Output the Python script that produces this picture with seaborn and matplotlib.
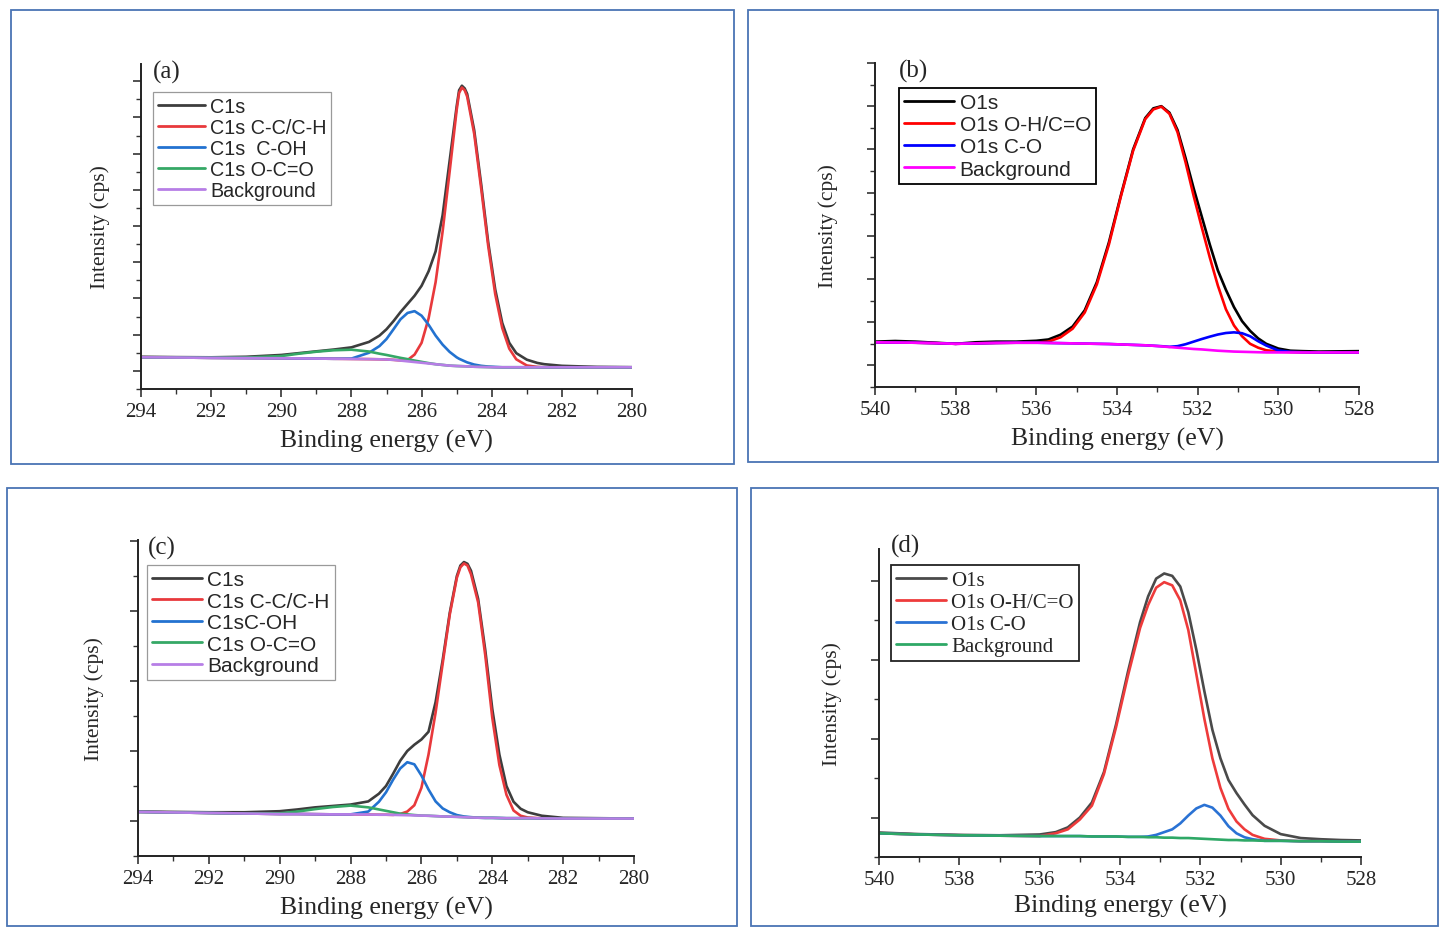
import matplotlib
matplotlib.use('Agg')
import matplotlib.pyplot as plt
import seaborn as sns
from matplotlib.patches import Rectangle
from matplotlib.ticker import MultipleLocator, NullFormatter

# ---------------- (a) C1s ----------------
energy_a = [294, 293, 292, 291, 290, 289.5, 289, 288.5, 288, 287.5, 287.2, 287.0,
            286.8, 286.6, 286.4, 286.2, 286.0, 285.8, 285.6, 285.4, 285.2, 285.0,
            284.93, 284.85, 284.77, 284.7, 284.5, 284.3, 284.1, 283.9, 283.7, 283.5,
            283.3, 283.0, 282.7, 282.5, 282.0, 281.0, 280.0]
c1s_a = [1.78, 1.76, 1.75, 1.78, 1.88, 1.98, 2.08, 2.18, 2.30, 2.60, 2.95, 3.30,
         3.75, 4.25, 4.70, 5.15, 5.70, 6.50, 7.60, 9.60, 12.6, 15.6,
         16.5, 16.75, 16.6, 16.3, 14.3, 11.3, 8.10, 5.50, 3.65, 2.55,
         1.98, 1.62, 1.44, 1.37, 1.28, 1.22, 1.20]
cc_a = [1.75, 1.74, 1.72, 1.71, 1.70, 1.69, 1.68, 1.67, 1.66, 1.65, 1.64, 1.63,
        1.61, 1.58, 1.60, 1.90, 2.55, 3.90, 5.90, 8.70, 12.0, 15.4,
        16.35, 16.65, 16.5, 16.15, 14.1, 11.07, 7.90, 5.24, 3.37, 2.23,
        1.64, 1.30, 1.22, 1.20, 1.20, 1.20, 1.20]
coh_a = [1.75, 1.74, 1.72, 1.71, 1.70, 1.69, 1.68, 1.67, 1.68, 2.00, 2.37, 2.76,
         3.30, 3.85, 4.20, 4.30, 4.05, 3.55, 2.95, 2.45, 2.05, 1.75,
         1.67, 1.60, 1.53, 1.47, 1.35, 1.28, 1.24, 1.22, 1.20, 1.20,
         1.20, 1.20, 1.20, 1.20, 1.20, 1.20, 1.20]
oco_a = [1.75, 1.74, 1.73, 1.74, 1.82, 1.95, 2.06, 2.14, 2.17, 2.07, 1.95, 1.88,
         1.80, 1.72, 1.65, 1.57, 1.50, 1.43, 1.37, 1.33, 1.29, 1.27,
         1.265, 1.26, 1.255, 1.25, 1.23, 1.22, 1.21, 1.20, 1.20, 1.20,
         1.20, 1.20, 1.20, 1.20, 1.20, 1.20, 1.20]
bg_a = [1.75, 1.74, 1.72, 1.71, 1.70, 1.69, 1.68, 1.67, 1.66, 1.65, 1.64, 1.63,
        1.61, 1.57, 1.53, 1.49, 1.45, 1.41, 1.37, 1.33, 1.29, 1.27,
        1.265, 1.26, 1.255, 1.25, 1.23, 1.22, 1.21, 1.20, 1.20, 1.20,
        1.20, 1.20, 1.20, 1.20, 1.20, 1.20, 1.20]
labels_a = ['C1s', 'C1s C-C/C-H', 'C1s  C-OH', 'C1s O-C=O', 'Background']

# ---------------- (b) O1s ----------------
energy_b = [540, 539.5, 539, 538.5, 538, 537.5, 537, 536.5, 536, 535.7, 535.4, 535.1,
            534.8, 534.5, 534.2, 533.9, 533.6, 533.3, 533.1, 532.9, 532.7, 532.5,
            532.3, 532.1, 531.9, 531.7, 531.5, 531.3, 531.1, 530.9, 530.7, 530.5,
            530.3, 530.0, 529.7, 529.4, 529.0, 528.5, 528.0]
o1s_b = [2.10, 2.13, 2.10, 2.05, 2.00, 2.07, 2.10, 2.10, 2.14, 2.20, 2.42, 2.80,
         3.55, 4.85, 6.70, 8.90, 11.0, 12.45, 12.9, 13.0, 12.7, 11.9,
         10.6, 9.20, 7.90, 6.60, 5.40, 4.50, 3.70, 3.05, 2.60, 2.25,
         2.00, 1.78, 1.68, 1.66, 1.64, 1.65, 1.66]
ohco_b = [2.07, 2.06, 2.05, 2.03, 2.00, 2.02, 2.04, 2.05, 2.05, 2.10, 2.30, 2.70,
          3.45, 4.75, 6.60, 8.85, 10.94, 12.4, 12.85, 12.98, 12.65, 11.8,
          10.4, 8.85, 7.40, 6.00, 4.70, 3.60, 2.85, 2.35, 2.00, 1.82,
          1.70, 1.64, 1.62, 1.61, 1.60, 1.60, 1.60]
co_b = [2.07, 2.06, 2.05, 2.03, 2.00, 2.02, 2.04, 2.05, 2.05, 2.04, 2.03, 2.02,
        2.01, 2.00, 1.99, 1.97, 1.95, 1.93, 1.91, 1.89, 1.86, 1.89,
        1.98, 2.10, 2.22, 2.33, 2.43, 2.50, 2.53, 2.49, 2.35, 2.12,
        1.92, 1.69, 1.63, 1.61, 1.60, 1.60, 1.60]
bg_b = [2.07, 2.06, 2.05, 2.03, 2.00, 2.02, 2.04, 2.05, 2.05, 2.04, 2.03, 2.02,
        2.01, 2.00, 1.99, 1.97, 1.95, 1.93, 1.91, 1.88, 1.85, 1.82,
        1.79, 1.76, 1.74, 1.71, 1.68, 1.66, 1.64, 1.63, 1.62, 1.61,
        1.60, 1.60, 1.60, 1.60, 1.60, 1.60, 1.60]
labels_b = ['O1s', 'O1s O-H/C=O', 'O1s C-O', 'Background']

# ---------------- (c) C1s ----------------
energy_c = [294, 293, 292, 291, 290, 289.5, 289, 288.5, 288, 287.5, 287.2, 287.0,
            286.8, 286.6, 286.4, 286.2, 286.0, 285.8, 285.6, 285.4, 285.2, 285.0,
            284.9, 284.8, 284.7, 284.6, 284.4, 284.2, 284.0, 283.8, 283.6, 283.4,
            283.2, 283.0, 282.6, 282.0, 281.0, 280.0]
c1s_c = [1.27, 1.26, 1.25, 1.25, 1.28, 1.33, 1.39, 1.43, 1.47, 1.56, 1.78, 2.00,
         2.35, 2.72, 3.00, 3.18, 3.33, 3.55, 4.40, 5.60, 6.95, 8.00,
         8.30, 8.40, 8.35, 8.15, 7.35, 5.90, 4.20, 2.90, 2.00, 1.55,
         1.35, 1.25, 1.15, 1.09, 1.08, 1.07]
cc_c = [1.26, 1.245, 1.23, 1.215, 1.20, 1.20, 1.195, 1.19, 1.19, 1.185, 1.18, 1.18,
        1.175, 1.20, 1.27, 1.45, 1.95, 2.90, 4.10, 5.50, 6.90, 7.95,
        8.25, 8.36, 8.30, 8.05, 7.25, 5.75, 3.95, 2.60, 1.75, 1.30,
        1.15, 1.10, 1.075, 1.07, 1.07, 1.07]
coh_c = [1.26, 1.245, 1.23, 1.215, 1.20, 1.20, 1.195, 1.19, 1.19, 1.27, 1.55, 1.82,
         2.18, 2.50, 2.68, 2.62, 2.30, 1.90, 1.56, 1.36, 1.25, 1.17,
         1.15, 1.13, 1.12, 1.11, 1.095, 1.09, 1.09, 1.085, 1.08, 1.08,
         1.08, 1.08, 1.075, 1.07, 1.07, 1.07]
oco_c = [1.26, 1.245, 1.23, 1.215, 1.22, 1.27, 1.34, 1.40, 1.44, 1.39, 1.33, 1.29,
         1.25, 1.21, 1.19, 1.17, 1.155, 1.15, 1.14, 1.13, 1.125, 1.12,
         1.115, 1.11, 1.105, 1.10, 1.095, 1.09, 1.09, 1.085, 1.08, 1.08,
         1.08, 1.08, 1.075, 1.07, 1.07, 1.07]
bg_c = [1.26, 1.245, 1.23, 1.215, 1.20, 1.20, 1.195, 1.19, 1.19, 1.185, 1.18, 1.18,
        1.175, 1.17, 1.165, 1.16, 1.155, 1.15, 1.14, 1.13, 1.125, 1.12,
        1.115, 1.11, 1.105, 1.10, 1.095, 1.09, 1.09, 1.085, 1.08, 1.08,
        1.08, 1.08, 1.075, 1.07, 1.07, 1.07]
labels_c = ['C1s', 'C1s C-C/C-H', 'C1sC-OH', 'C1s O-C=O', 'Background']

# ---------------- (d) O1s ----------------
energy_d = [540, 539, 538, 537, 536, 535.6, 535.3, 535.0, 534.7, 534.4, 534.1, 533.8,
            533.5, 533.3, 533.1, 532.9, 532.7, 532.5, 532.3, 532.1, 531.9, 531.7,
            531.5, 531.3, 531.1, 530.9, 530.7, 530.4, 530.0, 529.5, 529.0, 528.5, 528.0]
o1s_d = [0.62, 0.58, 0.56, 0.55, 0.57, 0.63, 0.75, 1.00, 1.38, 2.15, 3.35, 4.70,
         5.95, 6.60, 7.05, 7.18, 7.12, 6.85, 6.20, 5.25, 4.20, 3.22,
         2.50, 1.95, 1.62, 1.33, 1.06, 0.79, 0.58, 0.48, 0.45, 0.43, 0.42]
ohco_d = [0.60, 0.57, 0.55, 0.54, 0.53, 0.60, 0.70, 0.95, 1.30, 2.10, 3.28, 4.60,
          5.80, 6.38, 6.82, 6.96, 6.88, 6.50, 5.75, 4.63, 3.50, 2.50,
          1.75, 1.22, 0.90, 0.70, 0.56, 0.46, 0.42, 0.40, 0.40, 0.39, 0.39]
co_d = [0.60, 0.57, 0.55, 0.54, 0.53, 0.53, 0.53, 0.53, 0.52, 0.52, 0.52, 0.51,
        0.51, 0.52, 0.56, 0.63, 0.70, 0.85, 1.05, 1.23, 1.32, 1.25,
        1.05, 0.78, 0.60, 0.50, 0.45, 0.41, 0.41, 0.40, 0.40, 0.39, 0.39]
bg_d = [0.60, 0.57, 0.55, 0.54, 0.53, 0.53, 0.53, 0.53, 0.52, 0.52, 0.52, 0.51,
        0.51, 0.50, 0.50, 0.49, 0.49, 0.48, 0.48, 0.47, 0.46, 0.45,
        0.44, 0.43, 0.43, 0.42, 0.42, 0.41, 0.41, 0.40, 0.40, 0.39, 0.39]
labels_d = ['O1s', 'O1s O-H/C=O', 'O1s C-O', 'Background']

SERIF = ['Liberation Serif', 'DejaVu Serif']
SANS = ['Liberation Sans', 'DejaVu Sans']

sns.set_style('ticks')
plt.rcParams['font.family'] = SERIF
plt.rcParams['axes.linewidth'] = 1.4
plt.rcParams['axes.edgecolor'] = '#222222'

fig = plt.figure(figsize=(14.39, 9.28), dpi=100)

# outer blue frames of the four pictures
for (x0, y0, x1, y1) in [(11, 11, 734, 465), (748, 11, 1438, 463),
                         (7, 489, 737, 927), (751, 489, 1438, 927)]:
    fig.add_artist(Rectangle((x0 / 1439, 1 - y1 / 928), (x1 - x0) / 1439, (y1 - y0) / 928,
                             transform=fig.transFigure, fill=False,
                             edgecolor='#4a74b4', lw=1.3))


def panel(rect, energy, series, labels, colors, xlim, ylim, tag, tag_xy,
          leg_xy, leg_font, leg_edge, leg_lw, ylab_x, xlab_y, leg_size, leg_space):
    ax = fig.add_axes(rect)
    for vals, lab, col in zip(series, labels, colors):
        sns.lineplot(x=energy, y=vals, ax=ax, color=col, lw=1.9, label=lab)
    ax.set_xlim(*xlim)
    ax.set_ylim(*ylim)
    ax.xaxis.set_major_locator(MultipleLocator(2))
    ax.xaxis.set_minor_locator(MultipleLocator(1))
    ax.yaxis.set_major_locator(MultipleLocator(2, offset=1))
    ax.yaxis.set_minor_locator(MultipleLocator(1))
    ax.yaxis.set_major_formatter(NullFormatter())
    ax.tick_params(axis='both', which='major', direction='out', length=6, width=1.2,
                   labelsize=15, color='#333333')
    ax.tick_params(axis='both', which='minor', direction='out', length=3.5, width=1.0,
                   color='#333333')
    sns.despine(ax=ax)
    ax.set_xlabel('Binding energy (eV)', fontsize=18.5, family=SERIF)
    ax.set_ylabel('Intensity (cps)', fontsize=15.5, family=SERIF)
    ax.xaxis.set_label_coords(0.5, xlab_y)
    ax.yaxis.set_label_coords(ylab_x, 0.5)
    for t in ax.get_xticklabels():
        t.set_family(SERIF)
    ax.text(tag_xy[0], tag_xy[1], tag, transform=ax.transAxes, fontsize=18,
            family=SERIF, ha='left', va='center')
    leg = ax.legend(loc='upper left', bbox_to_anchor=leg_xy, borderaxespad=0,
                    prop=dict(family=leg_font, size=leg_size), frameon=True,
                    fancybox=False, framealpha=1, handlelength=2.4,
                    handletextpad=0.25, labelspacing=leg_space, borderpad=0.25)
    leg.get_frame().set_edgecolor(leg_edge)
    leg.get_frame().set_linewidth(leg_lw)
    for h in leg.get_lines():
        h.set_linewidth(2.0)
    return ax


panel([141 / 1439, 1 - 390 / 928, 491 / 1439, 325 / 928], energy_a,
      [c1s_a, cc_a, coh_a, oco_a, bg_a], labels_a,
      ['#3d3d3d', '#e8393c', '#2372d0', '#35a866', '#b77ee6'],
      (294, 280), (0, 17.95), '(a)', (0.024, 0.978), (0.024, 0.914),
      SANS, '#9a9a9a', 0.9, -0.063, -0.122, 14.2, 0.1)

panel([875 / 1439, 1 - 388 / 928, 484 / 1439, 324 / 928], energy_b,
      [o1s_b, ohco_b, co_b, bg_b], labels_b,
      ['#000000', '#ff0000', '#0000ff', '#ff00ff'],
      (540, 528), (0, 15.0), '(b)', (0.05, 0.978), (0.05, 0.923),
      SANS, '#000000', 1.3, -0.076, -0.124, 15, 0.15)

panel([138 / 1439, 1 - 857 / 928, 496 / 1439, 316 / 928], energy_c,
      [c1s_c, cc_c, coh_c, oco_c, bg_c], labels_c,
      ['#3d3d3d', '#e8393c', '#2372d0', '#35a866', '#b77ee6'],
      (294, 280), (0, 9.03), '(c)', (0.02, 0.975), (0.018, 0.921),
      SANS, '#9a9a9a', 0.9, -0.069, -0.127, 15, 0.12)

panel([879 / 1439, 1 - 858 / 928, 482 / 1439, 308 / 928], energy_d,
      [o1s_d, ohco_d, co_d, bg_d], labels_d,
      ['#4a4a4a', '#ee3b3b', '#2a72d4', '#2ea866'],
      (540, 528), (0, 7.8), '(d)', (0.025, 1.01), (0.025, 0.948),
      SERIF, '#222222', 1.3, -0.077, -0.12, 15, 0.12)

fig.savefig('out.png', dpi=100)
